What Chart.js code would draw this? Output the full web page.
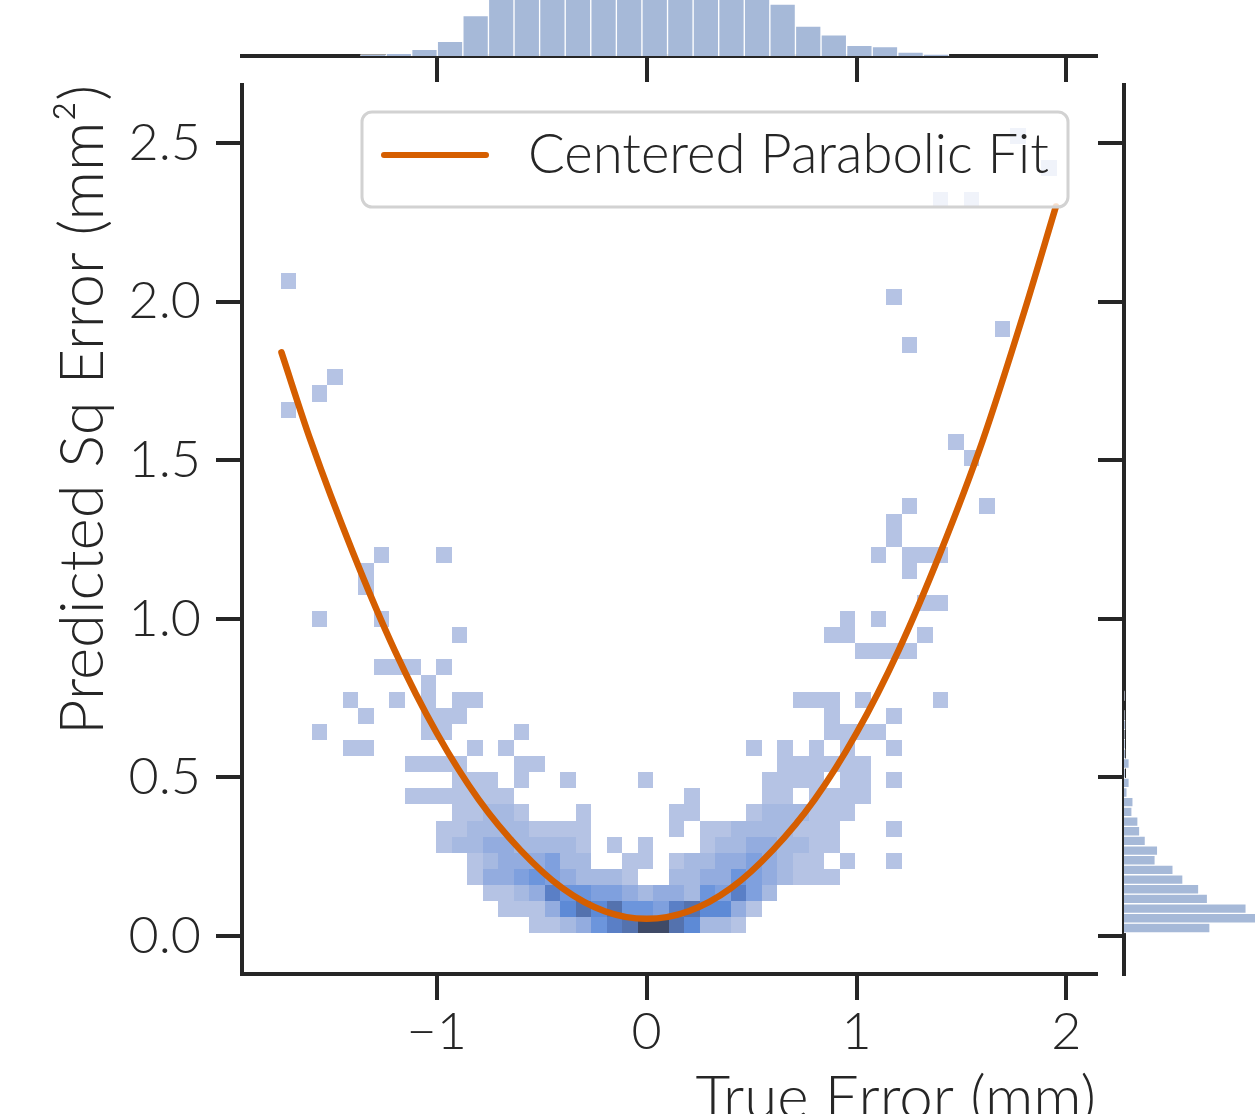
<!DOCTYPE html>
<html>
<head>
<meta charset="utf-8">
<script src="https://cdn.jsdelivr.net/npm/chart.js@4.4.1/dist/chart.umd.min.js"></script>
<style>
  html, body { margin: 0; padding: 0; background: #fff; overflow: hidden; width: 1255px; height: 1114px; }
  canvas { position: absolute; }
  #mainChart { left: 0; top: 0; }
  #topChart { left: 0; top: -140px; }
  #rightChart { left: 1000px; top: 0; }
</style>
</head>
<body>
<canvas id="topChart" width="1255" height="236"></canvas>
<canvas id="rightChart" width="400" height="1200"></canvas>
<canvas id="mainChart" width="1255" height="1200"></canvas>
<script>
// axis ticks
const xTicks = [-1, 0, 1, 2];
const yTicks = [0, 0.5, 1, 1.5, 2, 2.5];

// joint 2D histogram: bin grid + counts
const heatXStart = -1.743;
const heatXWidth = 0.07395;
const heatYStart = 0.0085;
const heatYHeight = 0.0508;
// [row, first column, counts per column]  '.' = empty, 'a' = 10
const heatRuns = [
  [0, 16, '1123578aa86221'],
  [1, 14, '11136868554786631'],
  [2, 13, '1123755443233254742'],
  [3, 12, '13345432221'], [3, 25, '22335432111'],
  [4, 12, '12333422'], [4, 22, '11'], [4, 25, '1223343211'], [4, 36, '1'], [4, 39, '1'],
  [5, 10, '1223322221'], [5, 21, '1'], [5, 23, '1'], [5, 27, '122332211'],
  [6, 10, '1122221111'], [6, 25, '1'], [6, 27, '112222111'], [6, 39, '1'],
  [7, 11, '11221'], [7, 19, '1'], [7, 25, '11'], [7, 30, '1222111'],
  [8, 8, '1111111'], [8, 26, '1'], [8, 31, '11'], [8, 34, '1111'],
  [9, 11, '111'], [9, 15, '1'], [9, 18, '1'], [9, 23, '1'], [9, 31, '1111'], [9, 36, '11'], [9, 39, '1'],
  [10, 8, '1111'], [10, 15, '11'], [10, 32, '111111'],
  [11, 4, '11'], [11, 12, '1'], [11, 14, '1'], [11, 30, '1'], [11, 32, '1'], [11, 34, '1'], [11, 36, '1'], [11, 39, '1'],
  [12, 2, '1'], [12, 9, '11'], [12, 15, '1'], [12, 35, '1111'],
  [13, 5, '1'], [13, 9, '111'], [13, 35, '1'], [13, 39, '1'],
  [14, 4, '1'], [14, 7, '1'], [14, 9, '1'], [14, 11, '11'], [14, 33, '111'], [14, 37, '1'], [14, 42, '1'],
  [15, 9, '1'],
  [16, 6, '111'], [16, 10, '1'],
  [17, 37, '1111'],
  [18, 11, '1'], [18, 35, '11'], [18, 41, '1'],
  [19, 2, '1'], [19, 6, '1'], [19, 36, '1'], [19, 38, '1'],
  [20, 41, '11'],
  [21, 5, '1'],
  [22, 5, '1'], [22, 40, '1'],
  [23, 6, '1'], [23, 10, '1'], [23, 38, '1'], [23, 40, '111'],
  [24, 39, '1'],
  [25, 39, '1'],
  [26, 40, '1'], [26, 45, '1'],
  [29, 44, '1'],
  [30, 43, '1'],
  [32, 0, '1'],
  [33, 2, '1'],
  [34, 3, '1'],
  [36, 40, '1'],
  [37, 46, '1'],
  [39, 39, '1'],
  [40, 0, '1'],
  [45, 42, '1'], [45, 44, '1'],
  [47, 49, '1'],
  [49, 47, '1']
];

// centered parabolic fit
const fitX = [-1.74, -1.6, -1.4, -1.2, -1.0, -0.8, -0.6, -0.4, -0.2, 0, 0.2, 0.4, 0.6, 0.8, 1.0, 1.2, 1.4, 1.6, 1.8, 1.95];
const fitY = [1.84, 1.56, 1.21, 0.90, 0.64, 0.43, 0.27, 0.15, 0.078, 0.054, 0.078, 0.15, 0.27, 0.43, 0.64, 0.90, 1.21, 1.56, 1.97, 2.30];

// marginal histogram of true error (top)
const topBinStart = -1.729;
const topBinWidth = 0.1219;
const topCounts = [0, 0, 0, 2, 4, 10, 22, 61, 100, 140, 175, 215, 240, 255, 245, 225, 185, 140, 95, 78, 45, 32, 16, 14, 6, 3, 0, 0, 0, 0, 0];

// marginal histogram of predicted sq error (right)
const rightBinStart = 0.0101;
const rightBinHeight = 0.0305;
const rightCounts = [245, 480, 348, 238, 213, 168, 140, 89, 96, 61, 45, 40, 23, 26, 9, 15, 2, 15, 3, 2, 1, 3, 1, 0, 1];

const ink = '#262626';
const family = 'Lato';
const weight = 300;
const fitColor = '#d55e00';
const barColor = '#a6b9d8';
const heatColors = ['#b5c3e4', '#a6b9e1', '#93acdf', '#7fa0de', '#6c95dc', '#5d8ad6', '#5a7fc6', '#5472ae', '#4c608e', '#3f4a67'];

const xMin = -1.928, xMax = 2.141;
const yMin = -0.1198, yMax = 2.683;

const minus = v => (v < 0 ? '\u2212' + Math.abs(v) : String(v));

// draw the 2D histogram cells through the chart scales
const heatmapPlugin = {
  id: 'heatmap',
  beforeDatasetsDraw(chart) {
    const {ctx, chartArea, scales: {x, y}} = chart;
    ctx.save();
    ctx.beginPath();
    ctx.rect(chartArea.left, chartArea.top, chartArea.width, chartArea.height);
    ctx.clip();
    heatRuns.forEach(([row, firstCol, counts]) => {
      [...counts].forEach((c, k) => {
        if (c === '.') return;
        const col = firstCol + k;
        const n = parseInt(c, 36);
        const x0 = Math.round(x.getPixelForValue(heatXStart + col * heatXWidth));
        const x1 = Math.round(x.getPixelForValue(heatXStart + (col + 1) * heatXWidth));
        const y0 = Math.round(y.getPixelForValue(heatYStart + row * heatYHeight));
        const y1 = Math.round(y.getPixelForValue(heatYStart + (row + 1) * heatYHeight));
        ctx.fillStyle = heatColors[Math.min(n, heatColors.length) - 1];
        ctx.fillRect(x0, y1, x1 - x0, y0 - y1);
      });
    });
    ctx.restore();
  }
};

// matplotlib-style legend inside the axes (upper right)
const legendBoxPlugin = {
  id: 'legendBox',
  afterDatasetsDraw(chart) {
    const {ctx, chartArea} = chart;
    const ds = chart.data.datasets[0];
    const w = 706, h = 95;
    const left = chartArea.right - 28 - w;
    const top = chartArea.top + 27;
    ctx.save();
    ctx.beginPath();
    ctx.roundRect(left, top, w, h, 10);
    ctx.fillStyle = 'rgba(255,255,255,0.8)';
    ctx.fill();
    ctx.lineWidth = 3;
    ctx.strokeStyle = '#d2d2d2';
    ctx.stroke();
    ctx.beginPath();
    ctx.moveTo(left + 22, top + 43);
    ctx.lineTo(left + 124, top + 43);
    ctx.lineWidth = 6;
    ctx.lineCap = 'round';
    ctx.strokeStyle = ds.borderColor;
    ctx.stroke();
    ctx.fillStyle = ink;
    ctx.font = weight + ' 54.5px ' + family;
    ctx.textBaseline = 'alphabetic';
    ctx.fillText(ds.label, left + 166, top + 61);
    ctx.restore();
  }
};

new Chart(document.getElementById('mainChart'), {
  type: 'scatter',
  data: {
    datasets: [{
      label: 'Centered Parabolic Fit',
      data: fitX.map((x, i) => ({x: x, y: fitY[i]})),
      showLine: true,
      borderColor: fitColor,
      borderWidth: 6.5,
      borderCapStyle: 'round',
      pointRadius: 0,
      cubicInterpolationMode: 'monotone',
      fill: false
    }]
  },
  options: {
    responsive: false,
    animation: false,
    layout: { padding: { top: 85, right: 159, left: 0, bottom: 0 } },
    plugins: { legend: { display: false }, tooltip: { enabled: false } },
    scales: {
      x: {
        type: 'linear',
        min: xMin,
        max: xMax,
        afterBuildTicks: s => { s.ticks = xTicks.map(v => ({value: v})); },
        afterFit: s => { s.height = 226; },
        grid: { drawOnChartArea: false, tickLength: 26, lineWidth: 4, color: ink },
        border: { width: 4, color: ink },
        ticks: { color: ink, font: { family: family, size: 52, weight: weight }, padding: 1, maxRotation: 0, callback: v => minus(v) },
        title: { display: true, text: 'True Error (mm)', align: 'end', color: ink, font: { family: family, size: 60, weight: weight }, padding: { top: 0, bottom: 65 } }
      },
      y: {
        type: 'linear',
        min: yMin,
        max: yMax,
        afterBuildTicks: s => { s.ticks = yTicks.map(v => ({value: v})); },
        afterFit: s => { s.width = 242; },
        grid: { drawOnChartArea: false, tickLength: 26, lineWidth: 4, color: ink },
        border: { width: 4, color: ink },
        ticks: { color: ink, font: { family: family, size: 52, weight: weight }, padding: 15, callback: v => v.toFixed(1) },
        title: { display: true, text: 'Predicted Sq Error (mm\u00b2)', align: 'end', color: ink, font: { family: family, size: 61.5, weight: weight }, padding: { top: 46, bottom: 0 } }
      }
    }
  },
  plugins: [heatmapPlugin, legendBoxPlugin]
});

// top marginal
new Chart(document.getElementById('topChart'), {
  type: 'bar',
  data: {
    datasets: [{
      data: topCounts.map((c, i) => ({x: topBinStart + (i + 0.5) * topBinWidth, y: c})),
      backgroundColor: barColor,
      borderColor: '#ffffff',
      borderWidth: 1,
      barPercentage: 1,
      categoryPercentage: 1
    }]
  },
  options: {
    responsive: false,
    animation: false,
    layout: { padding: { top: 18, right: 159, left: 242, bottom: 0 } },
    plugins: { legend: { display: false }, tooltip: { enabled: false } },
    scales: {
      x: {
        type: 'linear',
        offset: false,
        min: xMin,
        max: xMax,
        afterBuildTicks: s => { s.ticks = xTicks.map(v => ({value: v})); },
        afterFit: s => { s.height = 40; },
        grid: { offset: false, drawOnChartArea: false, tickLength: 26, lineWidth: 4, color: ink },
        border: { width: 4, color: ink },
        ticks: { display: false }
      },
      y: { display: false, min: 0, max: 268 }
    }
  }
});

// right marginal
new Chart(document.getElementById('rightChart'), {
  type: 'bar',
  data: {
    datasets: [{
      data: rightCounts.map((c, i) => ({y: rightBinStart + (i + 0.5) * rightBinHeight, x: c})),
      backgroundColor: barColor,
      borderColor: '#ffffff',
      borderWidth: 1,
      barPercentage: 1,
      categoryPercentage: 1
    }]
  },
  options: {
    indexAxis: 'y',
    responsive: false,
    animation: false,
    layout: { padding: { top: 85, right: 99, left: 0, bottom: 226 } },
    plugins: { legend: { display: false }, tooltip: { enabled: false } },
    scales: {
      y: {
        type: 'linear',
        position: 'left',
        offset: false,
        min: yMin,
        max: yMax,
        afterBuildTicks: s => { s.ticks = yTicks.map(v => ({value: v})); },
        afterFit: s => { s.width = 124; },
        grid: { offset: false, drawOnChartArea: false, tickLength: 26, lineWidth: 4, color: ink },
        border: { width: 4, color: ink },
        ticks: { display: false }
      },
      x: { display: false, min: 0, max: 504 }
    }
  }
});
</script>
</body>
</html>
